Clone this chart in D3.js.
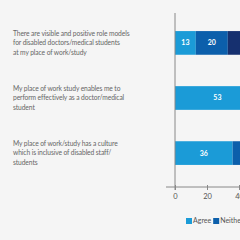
<!DOCTYPE html>
<html lang="en">
<head>
    <meta charset="UTF-8">
    <title>chart</title>
    <script src="https://cdn.jsdelivr.net/npm/d3@7"></script>
    <style>
        body { margin: 0; background: #f5f5f5; }
        svg { display: block; font-family: Lato, "Open Sans", sans-serif; }
    </style>
</head>
<body>
<svg width="240" height="240" id="chart"></svg>
<script>
    // statements (each split into display lines)
    const statements = [
        ["There are visible and positive role models", "for disabled doctors/medical students", "at my place of work/study"],
        ["My place of work study enables me to", "perform effectively as a doctor/medical", "student"],
        ["My place of work/study has a culture", "which is inclusive of disabled staff/", "students"]
    ];
    const series = ["Agree", "Neither agree nor disagree", "Disagree"];
    const agree = [13, 53, 36];
    const neither = [20, 25, 33];
    const disagree = [67, 22, 31];
    const ticks = [0, 20, 40, 60, 80, 100];
    const colors = ["#1b9bd7", "#0c5fab", "#16306f"];

    const svg = d3.select("#chart");
    const ids = statements.map((d, i) => i);

    const x = d3.scaleLinear().domain([0, 100]).range([175, 335]);
    const y = d3.scaleBand().domain(ids).range([14, 182]).paddingInner(0.57).paddingOuter(0.31);

    const rows = ids.map(i => [agree[i], neither[i], disagree[i]]);
    const stacked = d3.stack().keys([0, 1, 2])(rows);

    // bars
    stacked.forEach((layer, k) => {
        const g = svg.append("g").attr("fill", colors[k]);
        g.selectAll("rect").data(layer).join("rect")
            .attr("x", d => x(d[0]))
            .attr("y", (d, i) => y(i))
            .attr("width", d => x(d[1]) - x(d[0]))
            .attr("height", y.bandwidth());
        svg.append("g").selectAll("text").data(layer).join("text")
            .attr("x", d => (x(d[0]) + x(d[1])) / 2)
            .attr("y", (d, i) => y(i) + y.bandwidth() / 2)
            .attr("dy", "0.35em")
            .attr("text-anchor", "middle")
            .attr("fill", "#fff")
            .attr("font-size", 7)
            .attr("font-weight", "bold")
            .text(d => d[1] - d[0]);
    });

    // statement labels
    ids.forEach(i => {
        const t = svg.append("text")
            .attr("x", 13)
            .attr("font-size", 6.7)
            .attr("letter-spacing", -0.1)
            .attr("fill", "#666");
        statements[i].forEach((line, j) => {
            t.append("tspan")
                .attr("x", 13)
                .attr("y", y(i) + y.bandwidth() / 2 + (j - 1) * 9.5)
                .attr("dy", "0.35em")
                .text(line);
        });
    });

    // vertical axis line
    svg.append("line")
        .attr("x1", x(0)).attr("x2", x(0))
        .attr("y1", 13).attr("y2", 190)
        .attr("stroke", "#888").attr("stroke-width", 1);

    // x axis
    const axis = svg.append("g")
        .attr("transform", "translate(0,187)")
        .call(d3.axisBottom(x).tickValues(ticks).tickSize(3).tickSizeOuter(0));
    axis.select(".domain").attr("d", `M166,0H${x(100)}`).attr("stroke", "#888");
    axis.selectAll(".tick line").attr("stroke", "#888").attr("y1", -2);
    axis.selectAll(".tick text")
        .attr("fill", "#555")
        .attr("font-size", 7.5)
        .attr("font-family", "Lato, sans-serif")
        .attr("y", 7);

    // legend
    let lx = 186;
    const legend = svg.append("g");
    series.forEach((name, k) => {
        legend.append("rect")
            .attr("x", lx).attr("y", 218)
            .attr("width", 6).attr("height", 6)
            .attr("fill", colors[k]);
        const txt = legend.append("text")
            .attr("x", lx + 7).attr("y", 221)
            .attr("dy", "0.35em")
            .attr("font-size", 7)
            .attr("fill", "#555")
            .text(name);
        lx += 7 + txt.node().getComputedTextLength() + 2;
    });
</script>
</body>
</html>
